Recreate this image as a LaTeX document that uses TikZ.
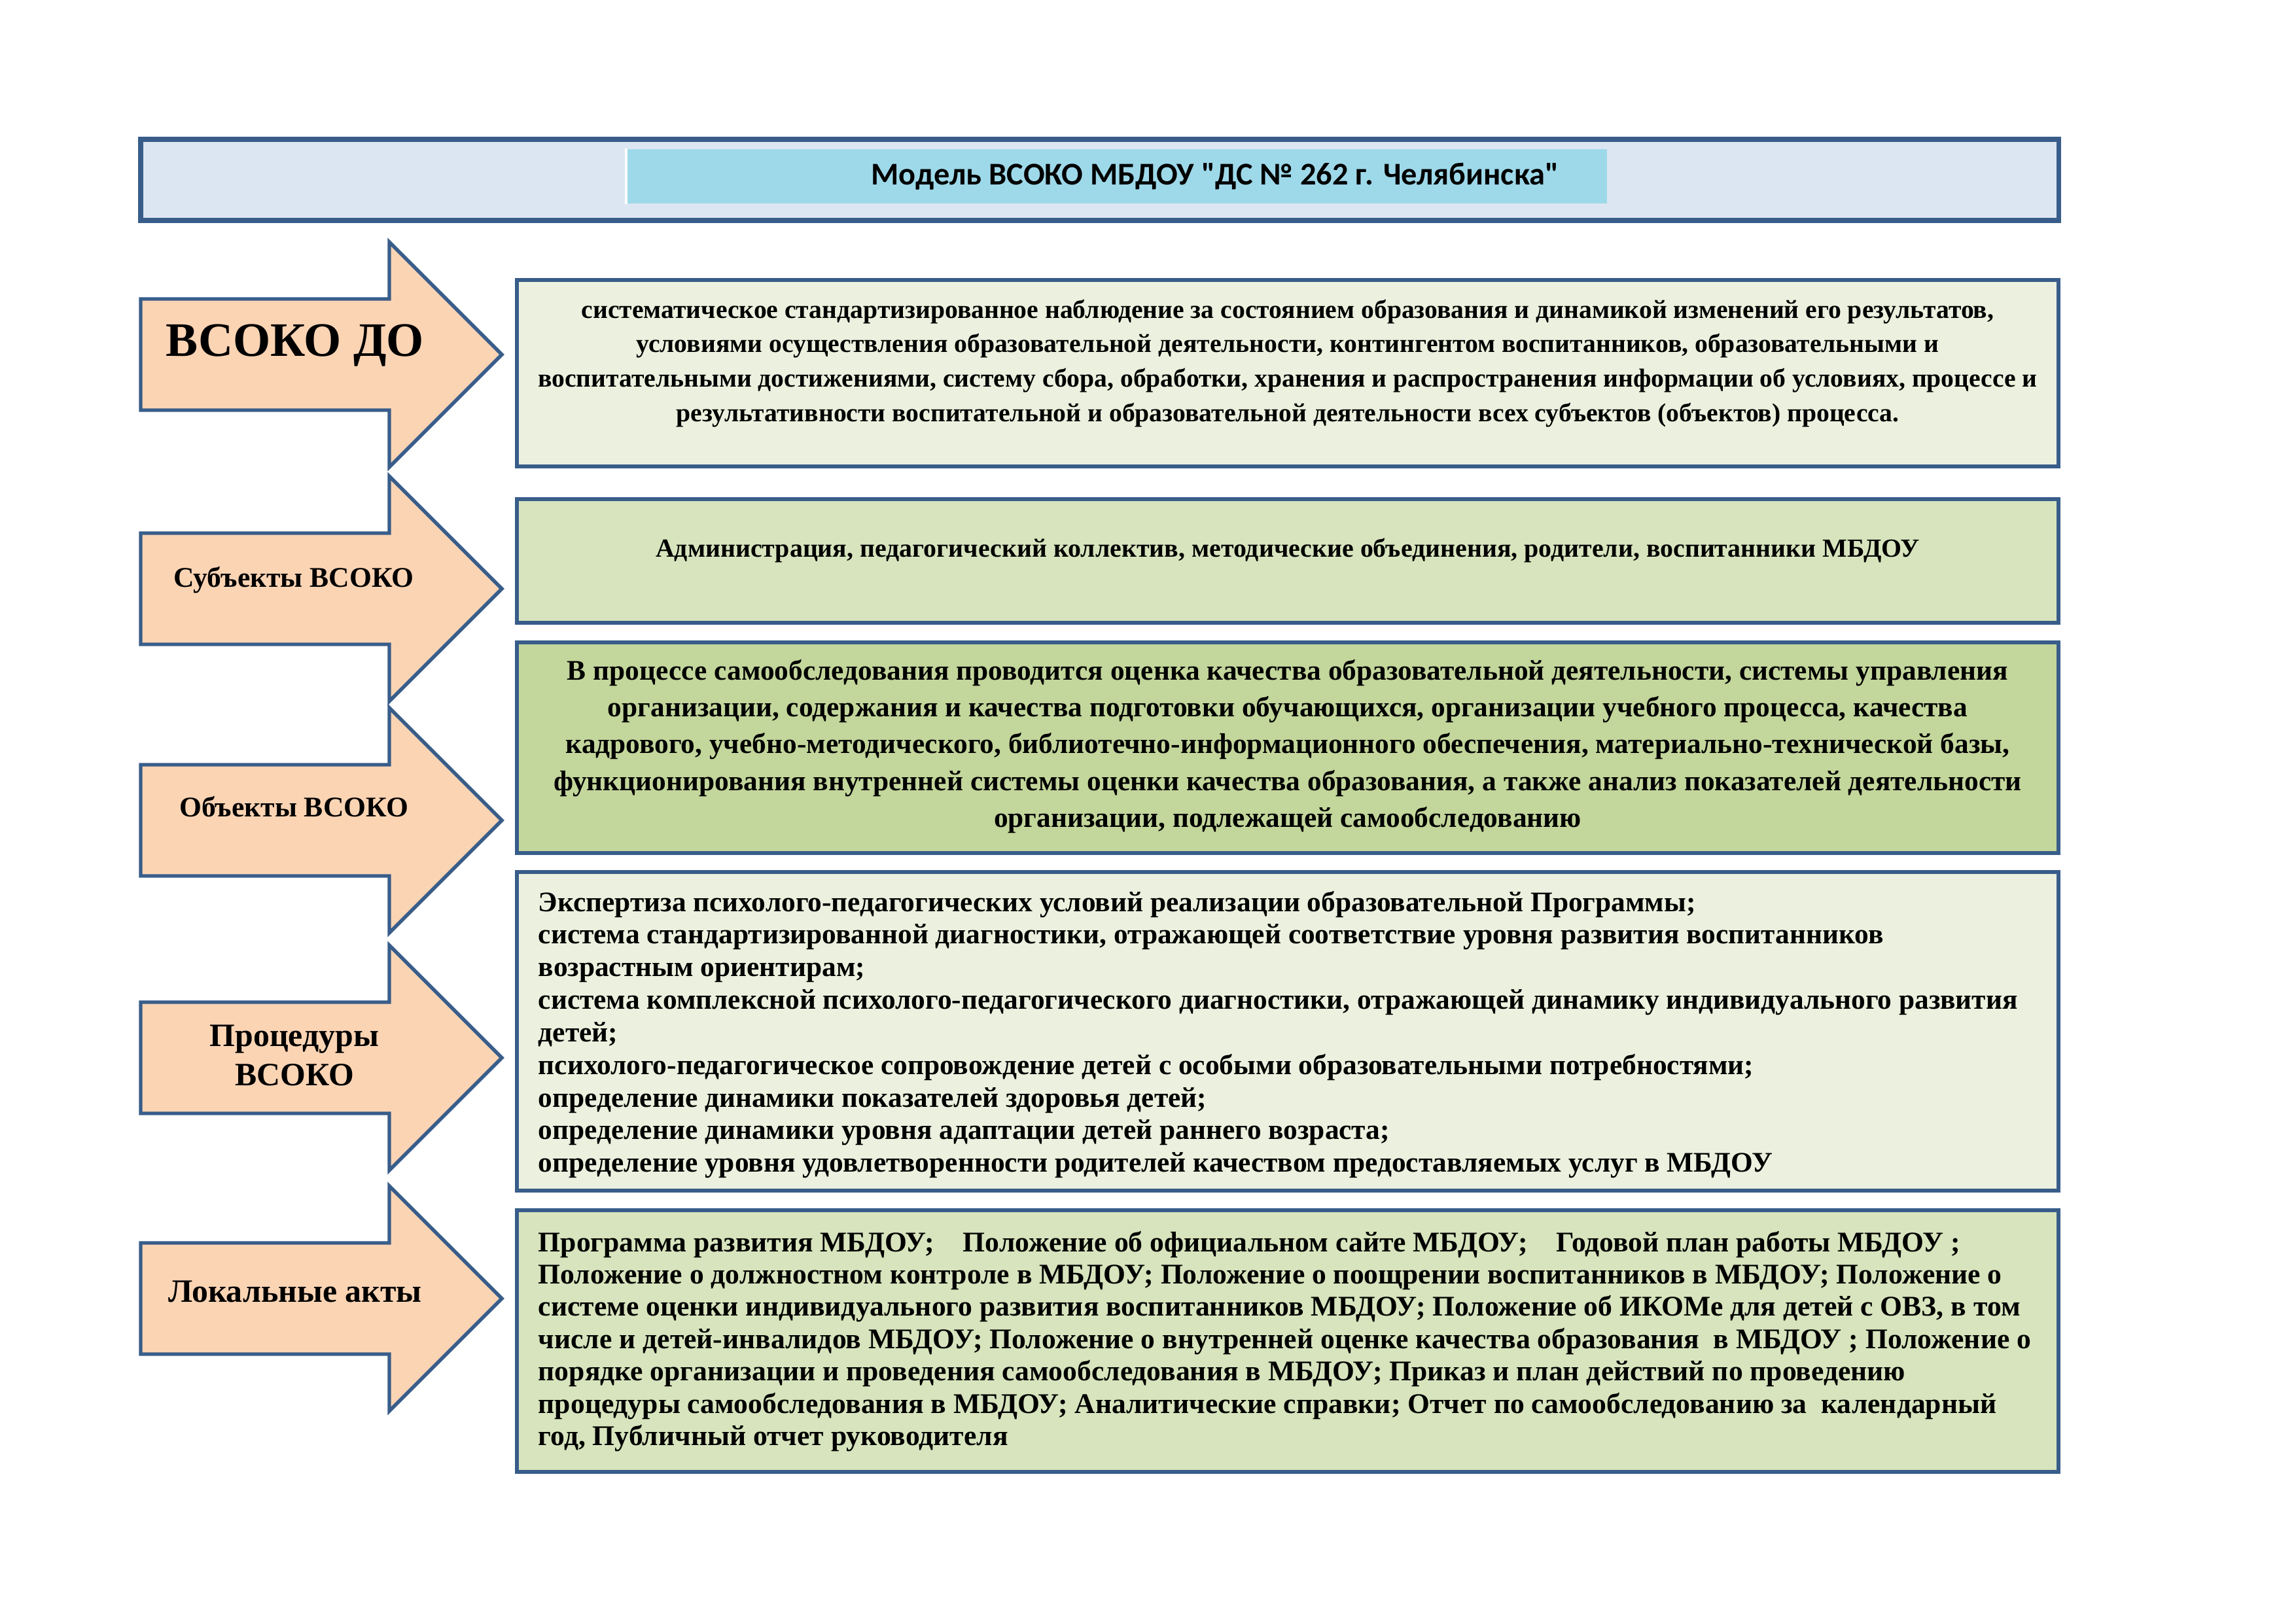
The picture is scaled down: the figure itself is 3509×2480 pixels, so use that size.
\documentclass[tikz,border=0pt]{standalone}
\usepackage{fontspec}
\setmainfont{Liberation Serif}
\newfontfamily\titlefont{Carlito}
\usetikzlibrary{fit}
\definecolor{bordblue}{HTML}{385D8A}
\definecolor{titlebg}{HTML}{DCE6F2}
\definecolor{titlecyan}{HTML}{9ED9EA}
\definecolor{peach}{HTML}{FBD4B4}
\definecolor{paleolive}{HTML}{EBF1DE}
\definecolor{lightolive}{HTML}{D7E4BD}
\definecolor{midolive}{HTML}{C3D69B}
\newcommand\vsarrow[1]{%
  \draw[arrowsty] (215,{#1-85}) -- (595,{#1-85}) -- (595,{#1-172}) -- (767,#1)
    -- (595,{#1+172}) -- (595,{#1+85}) -- (215,{#1+85}) -- cycle;}
\tikzset{
  box/.style={draw=bordblue, line width=1.4pt, inner sep=0pt},
  arrowsty/.style={draw=bordblue, line width=1.3pt, fill=peach, line join=miter},
  btext/.style={inner sep=0pt, text=black, font={\bfseries}},
  alabel/.style={inner sep=0pt, anchor=base, text=black},
}
\begin{document}
\begin{tikzpicture}[x=0.08464mm,y=-0.08464mm]
\useasboundingbox[fill=white] (0,0) rectangle (3509,2480);

% title
\node[box, fill=titlebg, line width=1.7pt, fit={(215,213) (3146,337)}] (tbar) {};
\node[inner sep=0pt, fill=titlecyan, fit={(958,228) (2456,311)}] (tcyan) {};
\draw[white, line width=1pt] (tcyan.north west) -- (tcyan.south west);
\node[inner sep=0pt, anchor=base, font={\titlefont\bfseries\fontsize{11.65}{14}\selectfont}] (ttext) at (1857,282)
  {Модель ВСОКО МБДОУ "ДС № 262 г. Челябинска"};

% arrows
\vsarrow{542}
\vsarrow{900}
\vsarrow{1254}
\vsarrow{1617}
\vsarrow{1985}

% arrow labels
\node[alabel, font={\bfseries\fontsize{17.7}{20}\selectfont}] (l1) at (451,544) {ВСОКО ДО};
\node[alabel, font={\bfseries\fontsize{10.5}{12}\selectfont}] (l2) at (449,897) {Субъекты ВСОКО};
\node[alabel, font={\bfseries\fontsize{10.5}{12}\selectfont}] (l3) at (449,1248) {Объекты ВСОКО};
\node[alabel, font={\bfseries\fontsize{12}{14.6}\selectfont}] (l4) at (450,1599)
  {\begin{tabular}[t]{@{}c@{}}Процедуры\\ВСОКО\end{tabular}};
\node[alabel, font={\bfseries\fontsize{12}{14}\selectfont}] (l5) at (451,1990) {Локальные акты};

% boxes
\node[box, fill=paleolive, fit={(790,428) (3146,713)}] (b1) {};
\node[box, fill=lightolive, fit={(790,763) (3146,952)}] (b2) {};
\node[box, fill=midolive, fit={(790,982) (3146,1304)}] (b3) {};
\node[box, fill=paleolive, fit={(790,1333) (3146,1820)}] (b4) {};
\node[box, fill=lightolive, fit={(790,1850) (3146,2250)}] (b5) {};

% box texts
\node[btext, anchor=base, font={\bfseries\fontsize{9.55}{12.75}\selectfont}] (t1) at (1968,486)
 {\begin{tabular}[t]{@{}c@{}}
 систематическое стандартизированное наблюдение за состоянием образования и динамикой изменений его результатов,\\
 условиями осуществления образовательной деятельности, контингентом воспитанников, образовательными и\\
 воспитательными достижениями, систему сбора, обработки, хранения и распространения информации об условиях, процессе и\\
 результативности воспитательной и образовательной деятельности всех субъектов (объектов) процесса.
 \end{tabular}};

\node[btext, anchor=base, font={\bfseries\fontsize{9.6}{12}\selectfont}] (t2) at (1968,851)
 {Администрация, педагогический коллектив, методические объединения, родители, воспитанники МБДОУ};

\node[btext, anchor=base, font={\bfseries\fontsize{10.45}{13.6}\selectfont}] (t3) at (1968,1039)
 {\begin{tabular}[t]{@{}c@{}}
 В процессе самообследования проводится оценка качества образовательной деятельности, системы управления\\
 организации, содержания и качества подготовки обучающихся, организации учебного процесса, качества\\
 кадрового, учебно-методического, библиотечно-информационного обеспечения, материально-технической базы,\\
 функционирования внутренней системы оценки качества образования, а также анализ показателей деятельности\\
 организации, подлежащей самообследованию
 \end{tabular}};

\node[btext, anchor=base west, font={\bfseries\fontsize{10.45}{12.0}\selectfont}] (t4) at (822,1393)
 {\begin{tabular}[t]{@{}l@{}}
 Экспертиза психолого-педагогических условий реализации образовательной Программы;\\
 система стандартизированной диагностики, отражающей соответствие уровня развития воспитанников\\
 возрастным ориентирам;\\
 система комплексной психолого-педагогического диагностики, отражающей динамику индивидуального развития\\
 детей;\\
 психолого-педагогическое сопровождение детей с особыми образовательными потребностями;\\
 определение динамики показателей здоровья детей;\\
 определение динамики уровня адаптации детей раннего возраста;\\
 определение уровня удовлетворенности родителей качеством предоставляемых услуг в МБДОУ
 \end{tabular}};

\node[btext, anchor=base west, font={\bfseries\fontsize{10.5}{11.9}\selectfont}] (t5) at (822,1913)
 {\begin{tabular}[t]{@{}l@{}}
 Программа развития МБДОУ;\hspace{1em}Положение об официальном сайте МБДОУ;\hspace{1em}Годовой план работы МБДОУ ;\\
 Положение о должностном контроле в МБДОУ; Положение о поощрении воспитанников в МБДОУ; Положение о\\
 системе оценки индивидуального развития воспитанников МБДОУ; Положение об ИКОМе для детей с ОВЗ, в том\\
 числе и детей-инвалидов МБДОУ; Положение о внутренней оценке качества образования\ \ в МБДОУ ; Положение о\\
 порядке организации и проведения самообследования в МБДОУ; Приказ и план действий по проведению\\
 процедуры самообследования в МБДОУ; Аналитические справки; Отчет по самообследованию за\ \ календарный\\
 год, Публичный отчет руководителя
 \end{tabular}};
\end{tikzpicture}
\end{document}
